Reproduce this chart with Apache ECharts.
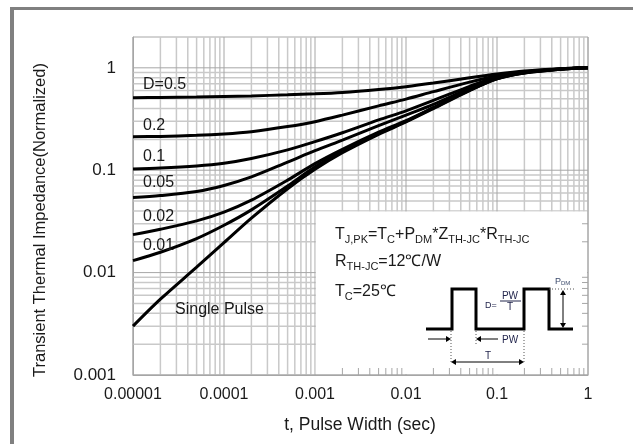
<!DOCTYPE html>
<html lang="en">
<head>
<meta charset="UTF-8">
<script src="https://cdn.jsdelivr.net/npm/echarts@6/dist/echarts.min.js"></script>
<style>
  html, body { margin: 0; padding: 0; background: #fff; }
  #main { width: 633px; height: 444px; }
</style>
</head>
<body>
<div id="main"></div>
<script>
// pulse width (sec) sample points
const pulseWidth = [1e-5, 2e-5, 5e-5, 1e-4, 2e-4, 5e-4, 1e-3, 2e-3, 5e-3, 1e-2, 2e-2, 5e-2, 0.1, 0.2, 0.5, 1];
// normalized transient thermal impedance per duty cycle
const zD05   = [0.51, 0.513, 0.518, 0.525, 0.532, 0.545, 0.557, 0.575, 0.615, 0.655, 0.71, 0.80, 0.87, 0.93, 0.98, 1.0];
const zD02   = [0.212, 0.214, 0.219, 0.226, 0.238, 0.267, 0.298, 0.345, 0.425, 0.495, 0.585, 0.725, 0.835, 0.915, 0.975, 1.0];
const zD01   = [0.103, 0.105, 0.11, 0.117, 0.13, 0.158, 0.19, 0.232, 0.31, 0.38, 0.48, 0.66, 0.815, 0.905, 0.972, 1.0];
const zD005  = [0.054, 0.0565, 0.062, 0.071, 0.086, 0.12, 0.155, 0.197, 0.272, 0.345, 0.44, 0.63, 0.80, 0.90, 0.972, 1.0];
const zD002  = [0.0235, 0.0265, 0.032, 0.039, 0.051, 0.08, 0.116, 0.16, 0.235, 0.305, 0.41, 0.61, 0.787, 0.894, 0.972, 1.0];
const zD001  = [0.0131, 0.0158, 0.0215, 0.029, 0.041, 0.07, 0.108, 0.153, 0.229, 0.30, 0.405, 0.605, 0.783, 0.892, 0.971, 1.0];
const zSingle = [0.003, 0.0055, 0.0113, 0.0196, 0.034, 0.066, 0.102, 0.148, 0.224, 0.296, 0.40, 0.60, 0.78, 0.89, 0.97, 1.0];

const curveNames = ['D=0.5', '0.2', '0.1', '0.05', '0.02', '0.01', 'Single Pulse'];
const curveData = [zD05, zD02, zD01, zD005, zD002, zD001, zSingle];

const xTickLabels = ['0.00001', '0.0001', '0.001', '0.01', '0.1', '1'];
const yTickLabels = ['0.001', '0.01', '0.1', '1'];

const X_MIN = 1e-5, X_MAX = 1, Y_MIN = 0.001, Y_MAX = 2;
// white note box (data coords): from just right of 0.001 s down to the bottom
const boxLeft = 0.00102, boxTop = 0.0395;

// log grid: decades and 2..9 minors
function logLines(minExp, maxExp) {
    const major = [], minor = [];
    for (let e = minExp; e <= maxExp; e++) {
        major.push(Math.pow(10, e));
        if (e < maxExp) for (let k = 2; k <= 9; k++) minor.push(+(k * Math.pow(10, e)).toPrecision(3));
    }
    return { major, minor };
}
const xLines = logLines(-5, 0);
const yLines = logLines(-3, 0);

const gridItems = [];
xLines.minor.forEach(v => gridItems.push({ dir: 'v', v: v, major: false }));
yLines.minor.forEach(v => gridItems.push({ dir: 'h', v: v, major: false }));
xLines.major.forEach(v => gridItems.push({ dir: 'v', v: v, major: true }));
yLines.major.forEach(v => gridItems.push({ dir: 'h', v: v, major: true }));

const tickItems = [];
xLines.minor.filter(v => v > boxLeft).forEach(v => tickItems.push({ dir: 'v', v: v }));
yLines.minor.filter(v => v < boxTop).forEach(v => tickItems.push({ dir: 'h', v: v }));

function decadeLabel(labels, minExp) {
    return function (v) {
        const e = Math.log10(v), r = Math.round(e);
        if (Math.abs(e - r) > 1e-6) return '';
        return labels[r - minExp] || '';
    };
}

const minorStyle = { stroke: '#c9c9c9', lineWidth: 1.5 };
const majorStyle = { stroke: '#a6a6a6', lineWidth: 1 };

function renderGrid(params, api) {
    const g = gridItems[params.dataIndex];
    const cs = params.coordSys;
    const p = g.dir === 'v' ? api.coord([g.v, 1]) : api.coord([1e-3, g.v]);
    const shape = g.dir === 'v'
        ? { x1: p[0], y1: cs.y, x2: p[0], y2: cs.y + cs.height }
        : { x1: cs.x, y1: p[1], x2: cs.x + cs.width, y2: p[1] };
    return { type: 'line', shape: shape, style: g.major ? majorStyle : minorStyle };
}
function renderBox(params, api) {
    const cs = params.coordSys;
    const a = api.coord([boxLeft, boxTop]);
    const right = cs.x + cs.width - 1, bottom = cs.y + cs.height - 1;
    return { type: 'rect', shape: { x: a[0], y: a[1], width: right - a[0], height: bottom - a[1] }, style: { fill: '#fff' } };
}
function renderTicks(params, api) {
    const t = tickItems[params.dataIndex];
    const style = { stroke: '#a6a6a6', lineWidth: 1 };
    if (t.dir === 'v') {
        const p = api.coord([t.v, Y_MIN]);
        return { type: 'line', shape: { x1: p[0], y1: p[1], x2: p[0], y2: p[1] - 7 }, style: style };
    }
    const p = api.coord([X_MAX, t.v]);
    return { type: 'line', shape: { x1: p[0], y1: p[1], x2: p[0] - 6, y2: p[1] }, style: style };
}

const chart = echarts.init(document.getElementById('main'));

const series = [
    { type: 'custom', z: 1, silent: true, renderItem: renderGrid,
      data: gridItems.map(g => g.dir === 'v' ? [g.v, 0.01] : [1e-3, g.v]) },
    { type: 'custom', z: 2, silent: true, renderItem: renderBox, data: [[boxLeft, boxTop]] },
    { type: 'custom', z: 4, silent: true, renderItem: renderTicks,
      data: tickItems.map(t => t.dir === 'v' ? [t.v, Y_MIN] : [X_MAX, t.v]) }
];
curveData.forEach((d, i) => {
    series.push({
        name: curveNames[i],
        type: 'line', z: 3,
        smooth: 0.3,
        showSymbol: false,
        animation: false,
        lineStyle: { color: '#000', width: 3 },
        data: pulseWidth.map((t, j) => [t, d[j]])
    });
});

const FONT = 'Liberation Sans, Arial, sans-serif';
const labelStyle = { fill: '#1a1a1a', fontSize: 16, fontFamily: FONT };
function txt(text, x, y, extra) {
    return { type: 'text', x: x, y: y, z: 20, style: Object.assign({ text: text, textVerticalAlign: 'middle' }, labelStyle, extra || {}) };
}
function arrowHead(x, y, dir) {
    const s = 5, w = 3;
    let pts;
    if (dir === 'r') pts = [[x, y], [x - s, y - w], [x - s, y + w]];
    if (dir === 'l') pts = [[x, y], [x + s, y - w], [x + s, y + w]];
    if (dir === 'u') pts = [[x, y], [x - w, y + s], [x + w, y + s]];
    if (dir === 'd') pts = [[x, y], [x - w, y - s], [x + w, y - s]];
    return { type: 'polygon', z: 20, shape: { points: pts }, style: { fill: '#000' } };
}
function seg(x1, y1, x2, y2, style) {
    return { type: 'line', z: 20, shape: { x1, y1, x2, y2 }, style: Object.assign({ stroke: '#000', lineWidth: 1 }, style || {}) };
}
const dotted = { stroke: '#555', lineWidth: 1, lineDash: [1, 2] };
const inkBlue = '#23264d';
const formulaRich = {
    n: { fontSize: 16, fill: '#1a1a1a', fontFamily: FONT },
    s: { fontSize: 11, fill: '#1a1a1a', fontFamily: FONT, padding: [9, 0, 0, 0] }
};

const graphics = [
    // outer frame
    { type: 'rect', z: 30, shape: { x: 10, y: 7, width: 4, height: 437 }, style: { fill: '#808080' } },
    { type: 'rect', z: 30, shape: { x: 10, y: 7, width: 623, height: 3 }, style: { fill: '#808080' } },
    // axis names
    { type: 'text', x: 40, y: 220, rotation: Math.PI / 2, z: 20,
      style: Object.assign({ text: 'Transient Thermal Impedance(Normalized)', textAlign: 'center', textVerticalAlign: 'middle' }, labelStyle, { fontSize: 16.5 }) },
    txt('t, Pulse Width (sec)', 360, 425, { textAlign: 'center', fontSize: 17.5 }),
    // curve labels
    txt('D=0.5', 143, 85),
    txt('0.2', 143, 126),
    txt('0.1', 143, 157),
    txt('0.05', 143, 183),
    txt('0.02', 143, 217),
    txt('0.01', 143, 246),
    txt('Single Pulse', 175, 310),
    // formula box
    { type: 'text', x: 335, y: 235, z: 20, style: { text: '{n|T}{s|J,PK}{n|=T}{s|C}{n|+P}{s|DM}{n|*Z}{s|TH-JC}{n|*R}{s|TH-JC}', rich: formulaRich, textVerticalAlign: 'middle' } },
    { type: 'text', x: 335, y: 262, z: 20, style: { text: '{n|R}{s|TH-JC}{n|=12℃/W}', rich: formulaRich, textVerticalAlign: 'middle' } },
    { type: 'text', x: 335, y: 292, z: 20, style: { text: '{n|T}{s|C}{n|=25℃}', rich: formulaRich, textVerticalAlign: 'middle' } },
    // pulse waveform
    { type: 'polyline', z: 20, shape: { points: [[426, 329], [452, 329], [452, 289], [476, 289], [476, 329], [524, 329], [524, 289], [549, 289], [549, 329], [573, 329]] },
      style: { stroke: '#000', lineWidth: 3, fill: null } },
    // D = PW / T
    txt('D=', 485, 306, { fontSize: 9, fill: inkBlue }),
    txt('PW', 510, 296, { fontSize: 10, fill: inkBlue, textAlign: 'center' }),
    seg(500, 301, 521, 301, { stroke: inkBlue, lineWidth: 1 }),
    txt('T', 510, 307, { fontSize: 10, fill: inkBlue, textAlign: 'center' }),
    // PDM
    { type: 'text', x: 555, y: 282, z: 20, style: { text: '{a|P}{b|DM}', textVerticalAlign: 'middle',
      rich: { a: { fontSize: 9, fill: '#3b4a6b' }, b: { fontSize: 6, fill: '#3b4a6b', padding: [3, 0, 0, 0] } } } },
    seg(549, 289, 575, 289, dotted),
    seg(563, 293, 563, 325, { lineWidth: 1 }),
    arrowHead(563, 290, 'u'),
    arrowHead(563, 328, 'd'),
    // PW arrows
    seg(428, 339, 448, 339),
    arrowHead(451, 339, 'r'),
    seg(479, 339, 498, 339),
    arrowHead(476, 339, 'l'),
    txt('PW', 502, 340, { fontSize: 10, fill: inkBlue }),
    seg(451, 331, 451, 364, dotted),
    seg(476, 331, 476, 346, dotted),
    seg(524, 331, 524, 364, dotted),
    // T arrow
    seg(455, 362, 520, 362),
    arrowHead(451, 362, 'l'),
    arrowHead(524, 362, 'r'),
    txt('T', 488, 356, { fontSize: 10, fill: inkBlue, textAlign: 'center' })
];

chart.setOption({
    backgroundColor: '#fff',
    animation: false,
    grid: { left: 133, top: 37, width: 455, height: 338, show: true, borderColor: '#a6a6a6', borderWidth: 1 },
    xAxis: {
        type: 'log', logBase: 10, min: X_MIN, max: X_MAX,
        axisLine: { show: true, lineStyle: { color: '#a6a6a6' } },
        axisTick: { show: false },
        splitLine: { show: false },
        axisLabel: { formatter: decadeLabel(xTickLabels, -5), color: '#1a1a1a', fontSize: 16, margin: 12, fontFamily: FONT }
    },
    yAxis: {
        type: 'log', logBase: 10, min: Y_MIN, max: Y_MAX,
        axisLine: { show: true, lineStyle: { color: '#a6a6a6' } },
        axisTick: { show: false },
        splitLine: { show: false },
        axisLabel: { formatter: decadeLabel(yTickLabels, -3), color: '#1a1a1a', fontSize: 17, margin: 17, fontFamily: FONT }
    },
    series: series,
    graphic: graphics
});
</script>
</body>
</html>
